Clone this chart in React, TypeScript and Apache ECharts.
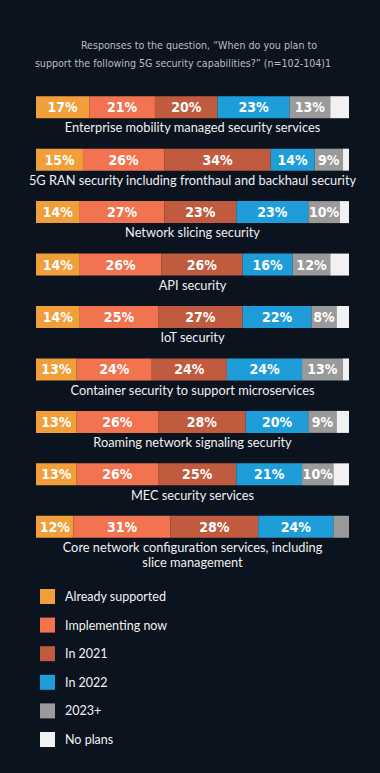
import React, { useEffect, useRef } from "react";
import * as echarts from "echarts";

const titleLines = [
  "Responses to the question, \u201cWhen do you plan to",
  "support the following 5G security capabilities?\u201d (n=102-104)1",
];

const categories = [
  "Enterprise mobility managed security services",
  "5G RAN security including fronthaul and backhaul security",
  "Network slicing security",
  "API security",
  "IoT security",
  "Container security to support microservices",
  "Roaming network signaling security",
  "MEC security services",
  "Core network configuration services, including\nslice management",
];

const seriesNames = [
  "Already supported",
  "Implementing now",
  "In 2021",
  "In 2022",
  "2023+",
  "No plans",
];

const alreadySupported = [17, 15, 14, 14, 14, 13, 13, 13, 12];
const implementingNow = [21, 26, 27, 26, 25, 24, 26, 26, 31];
const in2021 = [20, 34, 23, 26, 27, 24, 28, 25, 28];
const in2022 = [23, 14, 23, 16, 22, 24, 20, 21, 24];
const from2023 = [13, 9, 10, 12, 8, 13, 9, 10, 5];
const noPlans = [6, 2, 3, 6, 4, 2, 4, 5, 0];

const colors = ["#f19f3a", "#f17350", "#c05b3f", "#1e9dd8", "#9a9a9a", "#f1f1f1"];

export default function App() {
  const ref = useRef<HTMLDivElement>(null);

  useEffect(() => {
    if (!ref.current) return;
    const chart = echarts.init(ref.current, null, { renderer: "svg" });
    const values = [alreadySupported, implementingNow, in2021, in2022, from2023, noPlans];
    const condFont = "'DejaVu Sans Condensed', sans-serif";

    chart.setOption({
      animation: false,
      backgroundColor: "#0b131e",
      grid: { left: 36, right: 31, top: 81, bottom: 220 },
      xAxis: { type: "value", min: 0, max: 100, show: false },
      yAxis: { type: "category", inverse: true, data: categories, show: false },
      legend: {
        orient: "vertical",
        left: 35,
        top: 584,
        itemWidth: 15,
        itemHeight: 15,
        itemGap: 13.6,
        icon: "rect",
        data: seriesNames,
        textStyle: {
          color: "#f2f2f2",
          fontSize: 12.5,
          fontFamily: "Lato, sans-serif",
          padding: [0, 0, 0, 5],
        },
      },
      series: seriesNames.map((name, i) => ({
        name,
        type: "bar",
        stack: "total",
        barWidth: 22,
        data: values[i],
        itemStyle: { color: colors[i] },
        label: {
          show: i < 5,
          position: "inside",
          color: "#ffffff",
          fontFamily: condFont,
          fontWeight: "bold",
          fontSize: 14,
          formatter: (p: any) => (p.value >= 8 ? p.value + "%" : ""),
        },
      })),
    });

    const graphics: any[] = [];
    graphics.push({
      type: "text",
      x: 199,
      y: 45,
      style: {
        text: titleLines[0],
        fill: "#b9bdc5",
        font: "10.6px " + condFont,
        textAlign: "center",
        textVerticalAlign: "middle",
      },
    });
    graphics.push({
      type: "text",
      x: 183,
      y: 63,
      style: {
        text: titleLines[1],
        fill: "#b9bdc5",
        font: "10.6px " + condFont,
        textAlign: "center",
        textVerticalAlign: "middle",
      },
    });
    categories.forEach((c, i) => {
      const pt = chart.convertToPixel({ gridIndex: 0 }, [50, i]) as number[];
      graphics.push({
        type: "text",
        x: pt[0],
        y: pt[1] + 13,
        style: {
          text: c,
          fill: "#eef0f3",
          font: "12.8px Lato, sans-serif",
          lineHeight: 14.5,
          textAlign: "center",
          textVerticalAlign: "top",
        },
      });
    });
    chart.setOption({ graphic: graphics });

    return () => chart.dispose();
  }, []);

  return (
    <div
      ref={ref}
      style={{ position: "fixed", left: 0, top: 0, width: 380, height: 773 }}
    />
  );
}
